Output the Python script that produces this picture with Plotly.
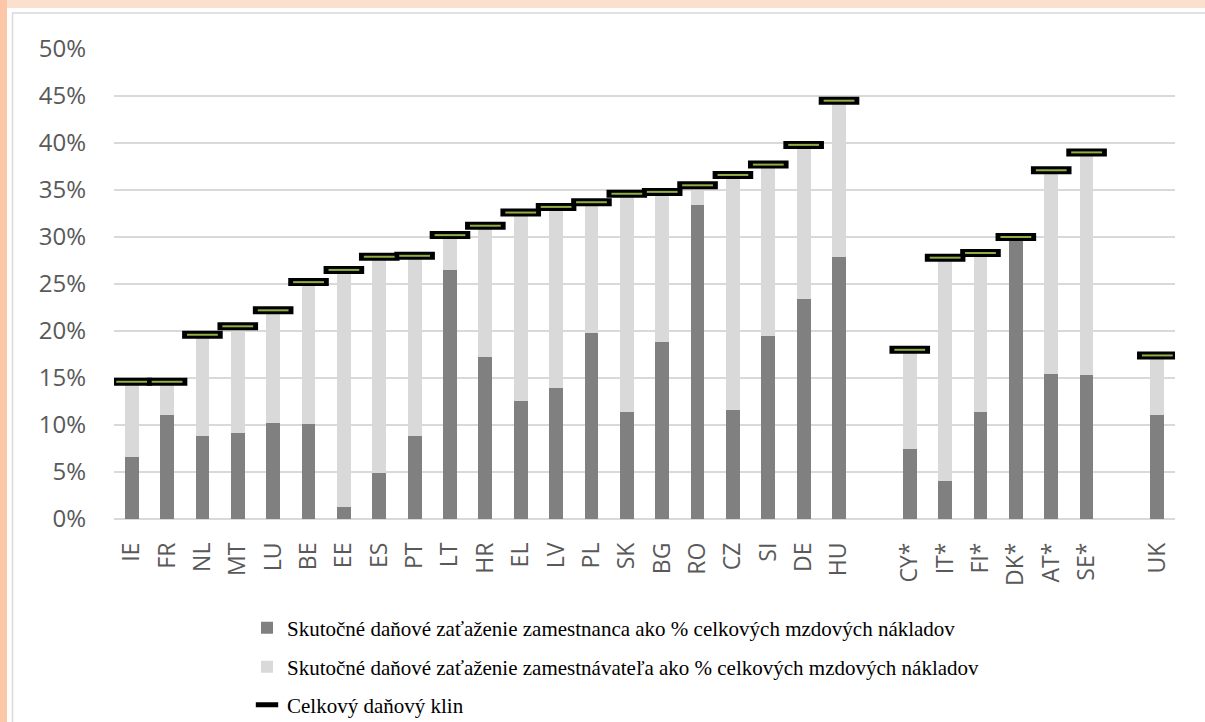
import plotly.graph_objects as go

# Country codes; empty strings leave a blank slot between country groups
countries = ["IE", "FR", "NL", "MT", "LU", "BE", "EE", "ES", "PT", "LT", "HR", "EL", "LV",
             "PL", "SK", "BG", "RO", "CZ", "SI", "DE", "HU", "",
             "CY*", "IT*", "FI*", "DK*", "AT*", "SE*", "", "UK"]

# Effective tax burden of the employee, % of total labour cost
employee = [6.6, 11.1, 8.8, 9.1, 10.2, 10.1, 1.3, 4.9, 8.8, 26.5, 17.2, 12.6, 13.9,
            19.8, 11.4, 18.8, 33.4, 11.6, 19.5, 23.4, 27.9, None,
            7.4, 4.0, 11.4, 29.7, 15.4, 15.3, None, 11.1]

# Total tax wedge, % of total labour cost
total_wedge = [14.6, 14.6, 19.6, 20.5, 22.2, 25.2, 26.5, 27.9, 28.0, 30.2, 31.2, 32.6, 33.2,
               33.7, 34.6, 34.8, 35.5, 36.6, 37.7, 39.8, 44.5, None,
               18.0, 27.8, 28.3, 30.0, 37.1, 39.0, None, 17.4]

# Employer part is the remainder of the wedge
employer = [None if t is None else round(t - e, 2) for t, e in zip(total_wedge, employee)]

slots = list(range(len(countries)))
pct = lambda vals: [None if v is None else v / 100 for v in vals]

fig = go.Figure()
fig.add_trace(go.Bar(
    x=slots, y=pct(employee), marker=dict(color="#808080", line_width=0),
    width=0.39, name="Skutočné daňové zaťaženie zamestnanca ako % celkových mzdových nákladov",
    legend="legend"))
fig.add_trace(go.Bar(
    x=slots, y=pct(employer), marker=dict(color="#d9d9d9", line_width=0),
    width=0.39, name="Skutočné daňové zaťaženie zamestnávateľa ako % celkových mzdových nákladov",
    legend="legend2"))
fig.add_trace(go.Scatter(
    x=slots, y=pct(total_wedge), mode="markers", name="Celkový daňový klin",
    marker=dict(symbol="line-ew", size=29, color="#000000",
                line=dict(color="#000000", width=8)),
    legend="legend3"))
fig.add_trace(go.Scatter(
    x=slots, y=pct(total_wedge), mode="markers", showlegend=False,
    marker=dict(symbol="line-ew", size=22, color="#8fae45",
                line=dict(color="#8fae45", width=2))))

L, R, T, B = 114, 30, 49, 203
W, H = 1205, 722
pw, ph = W - L - R, H - T - B
px = lambda p: (p - L) / pw
py = lambda p: (H - B - p) / ph

# Decorative frame: peach surround, white panel with thin grey border
shapes = [
    dict(type="rect", xref="paper", yref="paper", x0=px(0), x1=px(W), y0=py(H), y1=py(0),
         fillcolor="#fbe0cf", line_width=0, layer="below"),
    dict(type="rect", xref="paper", yref="paper", x0=px(0), x1=px(7), y0=py(H), y1=py(0),
         fillcolor="#fcc7a6", line_width=0, layer="below"),
    dict(type="rect", xref="paper", yref="paper", x0=px(7), x1=px(W), y0=py(H), y1=py(8),
         fillcolor="#ffffff", line_width=0, layer="below"),
    dict(type="rect", xref="paper", yref="paper", x0=px(12.5), x1=px(W + 5), y0=py(H + 5), y1=py(13),
         fillcolor="rgba(0,0,0,0)", line=dict(color="#d9d9d9", width=1.5), layer="below"),
]


def legend_row(center_y):
    # one legend per row, placed in figure (container) coordinates
    return dict(xref="container", yref="container", x=247 / W, y=1 - center_y / H,
                xanchor="left", yanchor="middle",
                font=dict(family="Liberation Serif", size=21, color="#000000"),
                bgcolor="rgba(0,0,0,0)")


fig.update_layout(
    width=W, height=H, barmode="stack",
    margin=dict(l=L, r=R, t=T, b=B, autoexpand=False),
    paper_bgcolor="#ffffff", plot_bgcolor="#ffffff",
    shapes=shapes,
    font=dict(family="Open Sans", color="#595959"),
    xaxis=dict(range=[-0.5, len(countries) - 0.5], tickvals=slots, ticktext=countries,
               tickangle=-90, showgrid=False, showline=False, zeroline=False,
               tickfont=dict(size=23, color="#595959"), ticks="", ticklabelstandoff=18),
    yaxis=dict(range=[0, 0.5], dtick=0.05, tickformat=".0%", showgrid=True,
               gridcolor="#d9d9d9", gridwidth=2, zeroline=True, zerolinecolor="#d9d9d9",
               zerolinewidth=2, showline=False, ticks="",
               tickfont=dict(size=24, color="#595959"), ticklabelstandoff=27),
    legend=legend_row(628),
    legend2=legend_row(667),
    legend3=legend_row(705),
    showlegend=True,
)

fig.write_html("out.html")
